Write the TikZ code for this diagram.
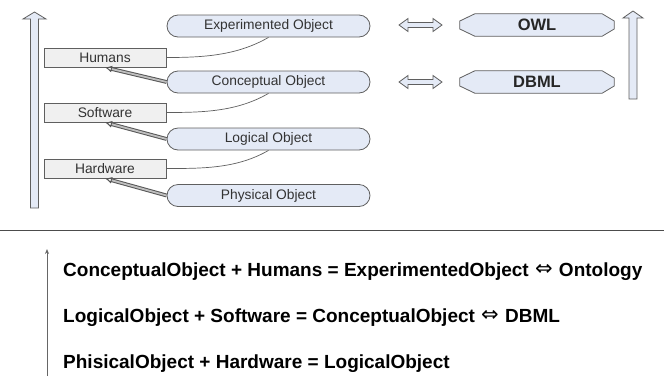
\documentclass[tikz,border=0pt]{standalone}
\usepackage{fontspec}
\setmainfont{Liberation Sans}
\newfontfamily\dejavu{DejaVu Sans}
\newcommand\eqvfont{\dejavu\mdseries\fontsize{21}{22}\selectfont}
\newcommand\eqvsign{\hspace{1pt}\raisebox{0.5pt}{\eqvfont ⇔}\hspace{1pt}}
\usetikzlibrary{shapes.misc,arrows.meta,calc}
\definecolor{blueish}{RGB}{228,234,246}
\definecolor{outl}{RGB}{95,95,95}
\begin{document}
\begin{tikzpicture}[x=1pt,y=-1pt,
  lbl/.style={font=\fontsize{13.8}{15}\selectfont, text=black!80},
  objnode/.style={rounded rectangle, draw=outl, fill=blueish, line width=0.8pt,
    minimum width=203pt, minimum height=22pt, inner sep=0pt, lbl},
  layerbox/.style={rectangle, draw=outl, fill=black!6, line width=0.8pt,
    minimum width=122pt, minimum height=19pt, inner sep=0pt, lbl},
  langnode/.style={rectangle, minimum width=154pt, minimum height=22pt, inner sep=0pt,
    font=\fontsize{16.5}{18}\selectfont\bfseries, text=black!85},
  langshape/.style={draw=outl, fill=blueish, line width=0.8pt},
  bigarrow/.style={draw=outl, fill=blueish, line width=0.8pt, line join=miter},
  link/.style={draw=outl, line width=0.7pt},
  dbl/.style={draw=outl!90!black, line width=1pt, double=black!25, double distance=1.8pt,
    -{Latex[open,length=7pt,width=7pt]}},
  eqn/.style={anchor=base west, inner sep=0pt, font=\fontsize{19}{22}\selectfont\bfseries}
]
\useasboundingbox (0,0) rectangle (664,376);

% left big arrow
\draw[bigarrow] (30.5,208) -- (30.5,19) -- (23,19) -- (34.5,12) -- (46,19) -- (38.5,19) -- (38.5,208) -- cycle;
% right big arrow
\draw[bigarrow] (629,99) -- (629,18) -- (623,18) -- (633,11) -- (643,18) -- (637,18) -- (637,99) -- cycle;

% layer boxes
\node[layerbox] (hum) at (105,57.5) {Humans};
\node[layerbox] (sw)  at (105,112.5) {Software};
\node[layerbox] (hw)  at (105,168.5) {Hardware};

% object nodes
\node[objnode] (eo) at (268.5,26) {Experimented Object};
\node[objnode] (co) at (268.5,82) {Conceptual Object};
\node[objnode] (lo) at (268.5,139) {Logical Object};
\node[objnode] (po) at (268.5,195.5) {Physical Object};

% curved links
\draw[link] (hum.east) to[out=0,in=-150,looseness=0.9] (eo.south);
\draw[link] (sw.east) to[out=0,in=-150,looseness=0.9] (co.south);
\draw[link] (hw.east) to[out=0,in=-150,looseness=0.9] (lo.south);

% double arrows
\draw[dbl] (co.west) -- (hum.south);
\draw[dbl] (lo.west) -- (sw.south);
\draw[dbl] (po.west) -- (hw.south);

% language nodes
\node[langnode] (owl) at (537,25) {};
\node[langnode] (dbml) at (537,82) {};
\foreach \n in {owl,dbml}{
  \draw[langshape] ($(\n.north west)+(15,0)$) -- ($(\n.north east)+(-12,0)$)
    -- ($(\n.east)+(0,-4)$) -- ($(\n.east)+(0,4)$) -- ($(\n.south east)+(-12,0)$)
    -- ($(\n.south west)+(15,0)$) -- ($(\n.west)+(0,4)$) -- ($(\n.west)+(0,-4)$) -- cycle;
}
\node[langnode] at (owl) {OWL};
\node[langnode] at (dbml) {DBML};

% equivalence arrows
\foreach \y in {25,82}{
  \draw[bigarrow] (399,\y) -- (408,\y-6.5) -- (408,\y-2.5) -- (433,\y-2.5) -- (433,\y-6.5)
    -- (442,\y) -- (433,\y+6.5) -- (433,\y+2.5) -- (408,\y+2.5) -- (408,\y+6.5) -- cycle;
}

% separator
\coordinate (sepL) at (0,230);
\coordinate (sepR) at (664,230);
\draw[draw=black!70, line width=0.9pt] (sepL) -- (sepR);

% small arrow
\coordinate (sab) at (47,376);
\coordinate (sat) at (47,249);
\draw[draw=black!60, line width=0.8pt, -{Stealth[length=5pt,width=4pt]}] (sab) -- (sat);

% equations
\node[eqn] (e1) at (63,276) {ConceptualObject + Humans = ExperimentedObject \eqvsign{} Ontology};
\node[eqn] (e2) at (63,322) {LogicalObject + Software = ConceptualObject \eqvsign{} DBML};
\node[eqn] (e3) at (63,368) {PhisicalObject + Hardware = LogicalObject};
\end{tikzpicture}
\end{document}
